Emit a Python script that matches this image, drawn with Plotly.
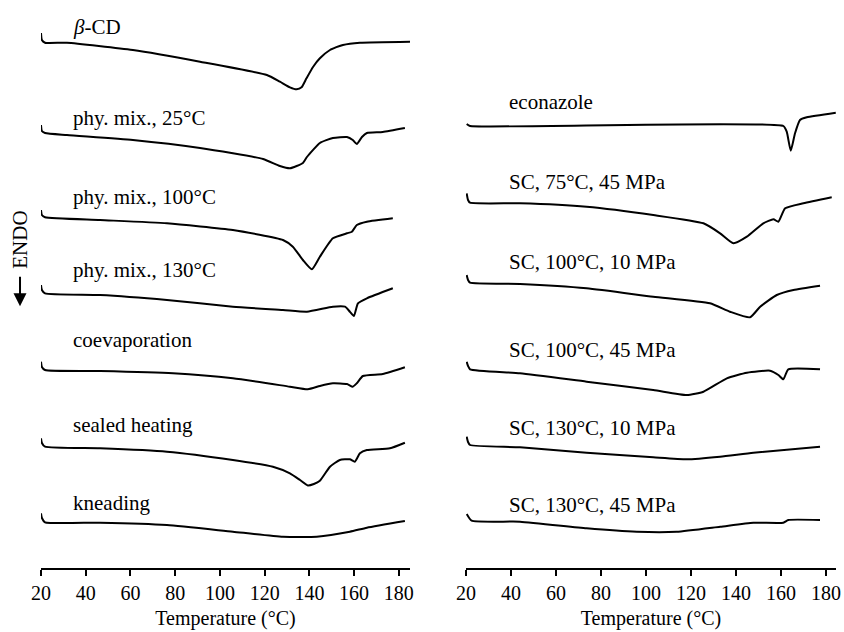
import plotly.graph_objects as go

# ---------------- data (temperature in °C, heat flow in arbitrary stacked units) -------------
# left panel
bcd_T = [20.0, 20.4, 21.8, 31.6, 61.1, 91.1, 121.0, 126.8, 131.3, 134.3, 136.5, 138.7, 141.7, 144.7, 149.2, 155.0, 162.6, 185.0]
bcd_H = [535, 528, 525.3, 525.3, 518, 506.3, 493, 486.3, 480.7, 478.7, 480.7, 489.7, 501.3, 509.7, 518, 523, 525.3, 526.3]

pm25_T = [20.0, 20.4, 21.8, 31.6, 61.1, 91.1, 119.3, 126.8, 131.3, 137.1, 138.9, 144.7, 150.5, 156.8, 159.4, 161.2, 163.5, 165.7, 172.8, 182.7]
pm25_H = [443, 437, 435, 433, 428, 420, 409, 402, 399.7, 405, 411, 425, 430, 431, 428, 424, 431, 435, 436, 440]

pm100_T = [20.0, 20.4, 21.8, 46.4, 76.3, 105.8, 128.2, 132.6, 137.1, 141.1, 144.7, 150.5, 156.8, 159.0, 161.2, 165.7, 177.3]
pm100_H = [358, 353, 350.7, 348, 344.7, 338, 328, 321.3, 308, 298.7, 311.3, 329.7, 334.7, 336.3, 343, 346.3, 349.7]

pm130_T = [20.0, 20.4, 21.8, 46.4, 76.3, 105.8, 128.2, 138.9, 150.5, 155.9, 158.1, 159.9, 161.7, 165.7, 177.3]
pm130_H = [283, 278, 274.7, 273, 268, 261.3, 258, 256.3, 261.3, 261.3, 256.3, 252, 264.7, 269.7, 279.7]

coev_T = [20.0, 20.4, 21.8, 46.4, 79.0, 105.8, 131.3, 139.3, 144.7, 150.5, 156.8, 159.4, 161.2, 163.9, 172.8, 182.7]
coev_H = [206.3, 201, 198, 197, 194.7, 189.7, 181.3, 178.7, 182, 184.7, 184, 181.3, 184.7, 192, 194, 200.7]

seal_T = [20.0, 20.4, 21.8, 46.4, 76.3, 105.8, 123.7, 131.3, 135.8, 139.3, 142.0, 144.7, 149.2, 153.6, 158.1, 160.3, 162.6, 165.7, 176.0, 182.7]
seal_H = [129.7, 125, 121.3, 119.7, 116.3, 108, 101.3, 94.7, 88, 82.5, 84, 87.3, 101.3, 108, 108.7, 106.3, 114.7, 118, 119.7, 125.3]

knead_T = [20.0, 20.4, 21.8, 46.4, 76.3, 105.8, 128.2, 143.3, 158.1, 165.7, 182.7]
knead_H = [54.7, 50, 45.7, 45.3, 43, 36.3, 31.3, 31.3, 36.3, 40.3, 47]

# right panel
econ_T = [20.3, 21.8, 161.0, 162.5, 164.3, 166.2, 168.4, 171.4, 184.3]
econ_H = [444, 442, 442, 436.3, 417.3, 434.7, 448, 450.7, 455.3]

sc75_T = [20.3, 20.9, 21.8, 44.0, 73.6, 103.2, 125.5, 132.9, 138.8, 144.8, 152.1, 156.6, 158.8, 161.8, 169.9, 182.5]
sc75_H = [374.7, 368, 365.3, 364.7, 361.3, 353, 344.7, 334.7, 324.7, 331.3, 344.7, 348.7, 346.3, 359.7, 364.7, 370.7]

sc100_10_T = [20.3, 20.9, 21.8, 44.0, 73.6, 103.2, 128.4, 137.3, 146.2, 150.7, 158.1, 165.5, 177.3]
sc100_10_H = [293, 288, 285.3, 284, 279.7, 271.3, 264.7, 256.3, 250.7, 261.3, 273, 278, 282.3]

sc100_45_T = [20.3, 20.9, 21.8, 44.0, 73.6, 103.2, 118.1, 125.5, 135.9, 144.8, 155.1, 158.8, 161.0, 163.2, 177.3]
sc100_45_H = [206.3, 202, 198.7, 194.7, 186.3, 178, 173, 176.3, 189.7, 195.3, 197.3, 193, 188.7, 198.7, 198.7]

sc130_10_T = [20.3, 20.9, 21.8, 44.0, 73.6, 103.2, 118.1, 132.9, 147.7, 177.3]
sc130_10_H = [131.3, 126, 123, 120.7, 115.3, 110.7, 108.7, 111.3, 115.3, 121.3]

sc130_45_T = [20.3, 22.5, 44.0, 73.6, 95.9, 113.6, 132.9, 147.7, 161.0, 163.2, 177.3]
sc130_45_H = [54, 47.3, 46.3, 39.7, 36.3, 36.3, 41.3, 45.3, 45.3, 48, 48]

left_curves = [(bcd_T, bcd_H), (pm25_T, pm25_H), (pm100_T, pm100_H), (pm130_T, pm130_H),
               (coev_T, coev_H), (seal_T, seal_H), (knead_T, knead_H)]
right_curves = [(econ_T, econ_H), (sc75_T, sc75_H), (sc100_10_T, sc100_10_H), (sc100_45_T, sc100_45_H),
                (sc130_10_T, sc130_10_H), (sc130_45_T, sc130_45_H)]

left_labels = ["<i>β</i>-CD", "phy. mix., 25°C", "phy. mix., 100°C", "phy. mix., 130°C",
               "coevaporation", "sealed heating", "kneading"]
left_label_H = [541, 450, 371, 298, 228, 143, 65]
right_labels = ["econazole", "SC, 75°C, 45 MPa", "SC, 100°C, 10 MPa", "SC, 100°C, 45 MPa",
                "SC, 130°C, 10 MPa", "SC, 130°C, 45 MPa"]
right_label_H = [466, 386, 306, 218, 140, 63]
label_T_left = 33.5
label_T_right = 38.2

tick_vals = [20, 40, 60, 80, 100, 120, 140, 160, 180]

# ---------------- figure -------------
FONT = "Liberation Serif, Times New Roman, serif"
fig = go.Figure()
for T, H in left_curves:
    fig.add_trace(go.Scatter(x=T, y=H, mode="lines", line=dict(color="black", width=2, shape="spline", smoothing=0.5),
                             xaxis="x", yaxis="y", showlegend=False, hoverinfo="skip", cliponaxis=False))
for T, H in right_curves:
    fig.add_trace(go.Scatter(x=T, y=H, mode="lines", line=dict(color="black", width=2, shape="spline", smoothing=0.5),
                             xaxis="x2", yaxis="y2", showlegend=False, hoverinfo="skip", cliponaxis=False))

ann = []
for txt, h in zip(left_labels, left_label_H):
    ann.append(dict(x=label_T_left, y=h, xref="x", yref="y", text=txt, showarrow=False,
                    xanchor="left", yanchor="middle", font=dict(family=FONT, size=21, color="black")))
for txt, h in zip(right_labels, right_label_H):
    ann.append(dict(x=label_T_right, y=h, xref="x2", yref="y2", text=txt, showarrow=False,
                    xanchor="left", yanchor="middle", font=dict(family=FONT, size=21, color="black")))
# ENDO marker
ann.append(dict(x=-0.0264, y=0.578, xref="paper", yref="paper", text="ENDO", textangle=-90, showarrow=False,
                xanchor="center", yanchor="middle", font=dict(family=FONT, size=21, color="black")))
ann.append(dict(x=-0.0264, y=0.461, xref="paper", yref="paper", text="", showarrow=True,
                ax=0, ay=-31, axref="pixel", ayref="pixel", arrowhead=2, arrowsize=1.3, arrowwidth=2,
                arrowcolor="black"))

axis_common = dict(tickvals=tick_vals, ticks="outside", ticklen=6, tickwidth=1.5, tickcolor="black",
                   showline=True, linecolor="black", linewidth=1.5, showgrid=False, zeroline=False,
                   tickfont=dict(family=FONT, size=20, color="black"),
                   title=dict(text="Temperature (°C)", font=dict(family=FONT, size=20, color="black"), standoff=8))

fig.update_layout(
    width=844, height=632,
    margin=dict(l=41, r=8, t=0, b=64),
    paper_bgcolor="white", plot_bgcolor="white",
    xaxis=dict(domain=[0, 0.4642], range=[20, 185], anchor="y", **axis_common),
    xaxis2=dict(domain=[0.5346, 1.0], range=[20, 184.4], anchor="y2", **axis_common),
    yaxis=dict(range=[0, 568], visible=False, domain=[0, 1]),
    yaxis2=dict(range=[0, 568], visible=False, domain=[0, 1], anchor="x2"),
    annotations=ann,
)

fig.write_html("out.html", config={"displayModeBar": False},
               post_script="document.body.style.margin='0';document.body.style.overflow='hidden';")
